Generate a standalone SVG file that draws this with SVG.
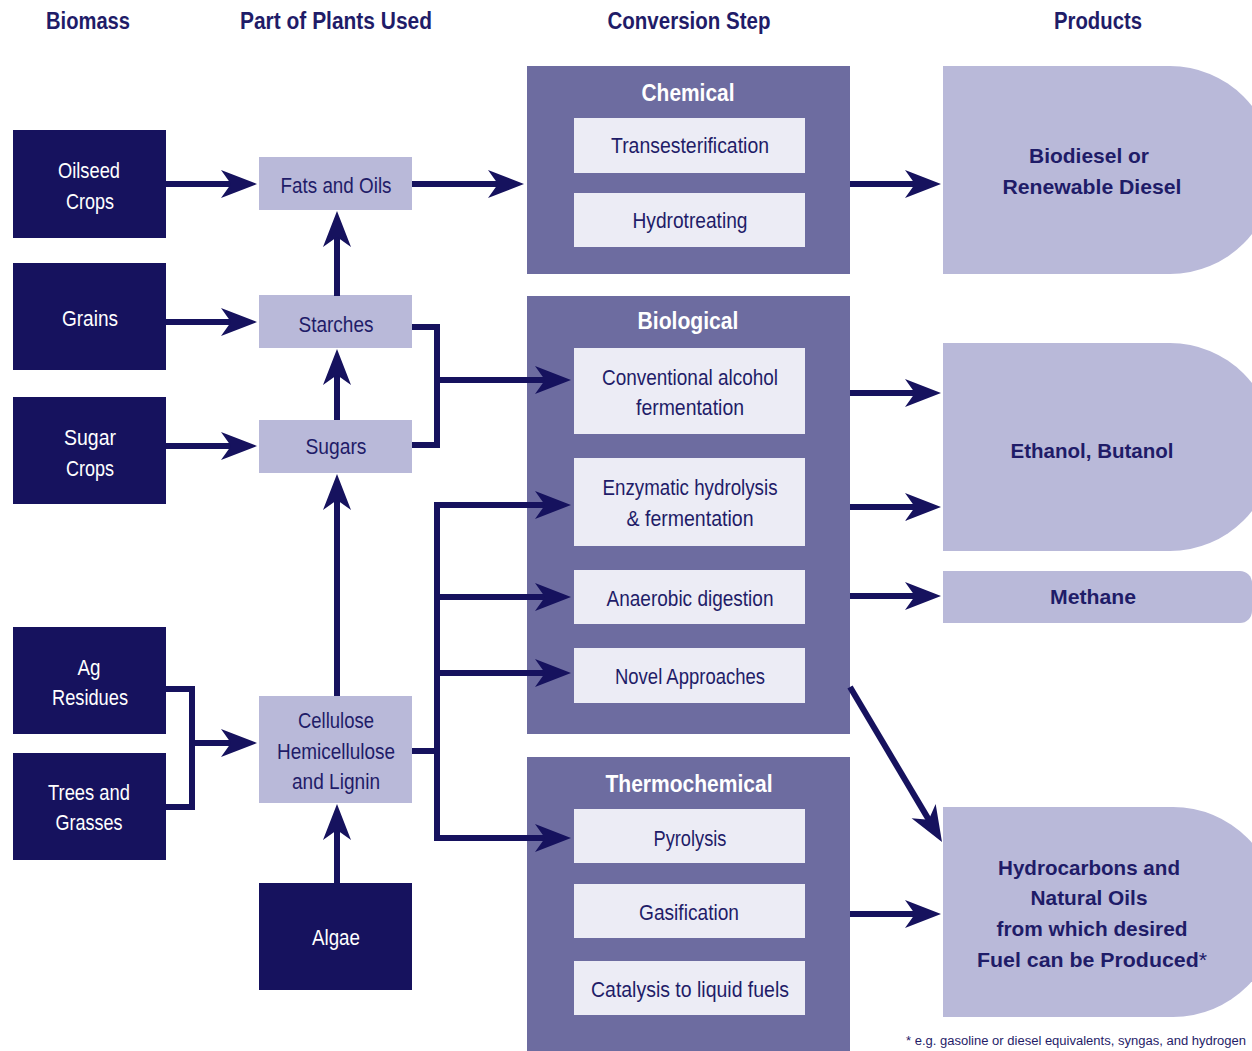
<svg xmlns="http://www.w3.org/2000/svg" width="1252" height="1051" viewBox="0 0 1252 1051">
<style>
text{font-family:"Liberation Sans",Arial,sans-serif;text-anchor:middle}
.hdr{font-size:23px;font-weight:bold;fill:#1f1c68}
.dark{fill:#16125e}
.light{fill:#b9b9d9}
.cont{fill:#6d6ca0}
.inner{fill:#ececf5}
.wt{font-size:22px;fill:#ffffff}
.nt{font-size:22px;fill:#1f1c68}
.tt{font-size:23px;font-weight:bold;fill:#ffffff}
.pt{font-size:21px;font-weight:bold;fill:#1f1c68}
.fn{font-size:12.5px;fill:#1f1c68;text-anchor:start}
.ln{fill:none;stroke:#16125e;stroke-width:6}
.ar{marker-end:url(#ah)}
</style>
<defs>
<marker id="ah" markerUnits="userSpaceOnUse" markerWidth="36" markerHeight="30" refX="26" refY="15" orient="auto">
<path d="M0,1 L36,15 L0,29 L10,15 Z" fill="#16125e"/>
</marker>
</defs>
<rect width="1252" height="1051" fill="#ffffff"/>
<g id="headers">
<text class="hdr" x="88" y="29" textLength="84" lengthAdjust="spacingAndGlyphs">Biomass</text>
<text class="hdr" x="336" y="29" textLength="192" lengthAdjust="spacingAndGlyphs">Part of Plants Used</text>
<text class="hdr" x="689" y="29" textLength="163" lengthAdjust="spacingAndGlyphs">Conversion Step</text>
<text class="hdr" x="1098" y="29" textLength="88" lengthAdjust="spacingAndGlyphs">Products</text>
</g>
<g id="oilseed"><rect class="dark" x="13" y="130" width="153" height="108"/>
<text class="wt" x="89" y="178" textLength="62" lengthAdjust="spacingAndGlyphs">Oilseed</text>
<text class="wt" x="90" y="209" textLength="48" lengthAdjust="spacingAndGlyphs">Crops</text></g>
<g id="grains"><rect class="dark" x="13" y="263" width="153" height="107"/>
<text class="wt" x="90" y="326" textLength="56" lengthAdjust="spacingAndGlyphs">Grains</text></g>
<g id="sugarcrops"><rect class="dark" x="13" y="397" width="153" height="107"/>
<text class="wt" x="90" y="445" textLength="52" lengthAdjust="spacingAndGlyphs">Sugar</text>
<text class="wt" x="90" y="476" textLength="48" lengthAdjust="spacingAndGlyphs">Crops</text></g>
<g id="agresidues"><rect class="dark" x="13" y="627" width="153" height="107"/>
<text class="wt" x="89" y="675" textLength="23" lengthAdjust="spacingAndGlyphs">Ag</text>
<text class="wt" x="90" y="705" textLength="76" lengthAdjust="spacingAndGlyphs">Residues</text></g>
<g id="trees"><rect class="dark" x="13" y="753" width="153" height="107"/>
<text class="wt" x="89" y="800" textLength="82" lengthAdjust="spacingAndGlyphs">Trees and</text>
<text class="wt" x="89" y="830" textLength="67" lengthAdjust="spacingAndGlyphs">Grasses</text></g>
<g id="fats"><rect class="light" x="259" y="157" width="153" height="53"/>
<text class="nt" x="336" y="193" textLength="111" lengthAdjust="spacingAndGlyphs">Fats and Oils</text></g>
<g id="starches"><rect class="light" x="259" y="295" width="153" height="53"/>
<text class="nt" x="336" y="332" textLength="75" lengthAdjust="spacingAndGlyphs">Starches</text></g>
<g id="sugars"><rect class="light" x="259" y="420" width="153" height="53"/>
<text class="nt" x="336" y="454" textLength="61" lengthAdjust="spacingAndGlyphs">Sugars</text></g>
<g id="cellulose"><rect class="light" x="259" y="696" width="153" height="107"/>
<text class="nt" x="336" y="728" textLength="76" lengthAdjust="spacingAndGlyphs">Cellulose</text>
<text class="nt" x="336" y="759" textLength="118" lengthAdjust="spacingAndGlyphs">Hemicellulose</text>
<text class="nt" x="336" y="789" textLength="88" lengthAdjust="spacingAndGlyphs">and Lignin</text></g>
<g id="algae"><rect class="dark" x="259" y="883" width="153" height="107"/>
<text class="wt" x="336" y="945" textLength="48" lengthAdjust="spacingAndGlyphs">Algae</text></g>
<g id="chemical"><rect class="cont" x="527" y="66" width="323" height="208"/>
<text class="tt" x="688" y="101" textLength="93" lengthAdjust="spacingAndGlyphs">Chemical</text>
<rect class="inner" x="574" y="118" width="231" height="55"/>
<text class="nt" x="690" y="153" textLength="158" lengthAdjust="spacingAndGlyphs">Transesterification</text>
<rect class="inner" x="574" y="193" width="231" height="54"/>
<text class="nt" x="690" y="228" textLength="115" lengthAdjust="spacingAndGlyphs">Hydrotreating</text></g>
<g id="biological"><rect class="cont" x="527" y="296" width="323" height="438"/>
<text class="tt" x="688" y="329" textLength="101" lengthAdjust="spacingAndGlyphs">Biological</text>
<rect class="inner" x="574" y="348" width="231" height="86"/>
<text class="nt" x="690" y="385" textLength="176" lengthAdjust="spacingAndGlyphs">Conventional alcohol</text>
<text class="nt" x="690" y="415" textLength="108" lengthAdjust="spacingAndGlyphs">fermentation</text>
<rect class="inner" x="574" y="458" width="231" height="88"/>
<text class="nt" x="690" y="495" textLength="175" lengthAdjust="spacingAndGlyphs">Enzymatic hydrolysis</text>
<text class="nt" x="690" y="526" textLength="127" lengthAdjust="spacingAndGlyphs">&amp; fermentation</text>
<rect class="inner" x="574" y="570" width="231" height="54"/>
<text class="nt" x="690" y="606" textLength="167" lengthAdjust="spacingAndGlyphs">Anaerobic digestion</text>
<rect class="inner" x="574" y="648" width="231" height="55"/>
<text class="nt" x="690" y="684" textLength="150" lengthAdjust="spacingAndGlyphs">Novel Approaches</text></g>
<g id="thermochemical"><rect class="cont" x="527" y="757" width="323" height="294"/>
<text class="tt" x="689" y="792" textLength="167" lengthAdjust="spacingAndGlyphs">Thermochemical</text>
<rect class="inner" x="574" y="809" width="231" height="54"/>
<text class="nt" x="690" y="846" textLength="73" lengthAdjust="spacingAndGlyphs">Pyrolysis</text>
<rect class="inner" x="574" y="884" width="231" height="54"/>
<text class="nt" x="689" y="920" textLength="100" lengthAdjust="spacingAndGlyphs">Gasification</text>
<rect class="inner" x="574" y="961" width="231" height="54"/>
<text class="nt" x="690" y="997" textLength="198" lengthAdjust="spacingAndGlyphs">Catalysis to liquid fuels</text></g>
<g id="biodiesel"><path class="light" d="M943,66 H1170 A104,104 0 0 1 1170,274 H943 Z"/>
<text class="pt" x="1089" y="163" textLength="120" lengthAdjust="spacingAndGlyphs">Biodiesel or</text>
<text class="pt" x="1092" y="194" textLength="179" lengthAdjust="spacingAndGlyphs">Renewable Diesel</text></g>
<g id="ethanol"><path class="light" d="M943,343 H1170 A104,104 0 0 1 1170,551 H943 Z"/>
<text class="pt" x="1092" y="458" textLength="163" lengthAdjust="spacingAndGlyphs">Ethanol, Butanol</text></g>
<g id="methane"><path class="light" d="M943,571 H1240 A12,12 0 0 1 1252,583 V611 A12,12 0 0 1 1240,623 H943 Z"/>
<text class="pt" x="1093" y="604" textLength="86" lengthAdjust="spacingAndGlyphs">Methane</text></g>
<g id="hydrocarbons"><path class="light" d="M943,807 H1173 A105,105 0 0 1 1173,1017 H943 Z"/>
<text class="pt" x="1089" y="875" textLength="182" lengthAdjust="spacingAndGlyphs">Hydrocarbons and</text>
<text class="pt" x="1089" y="905" textLength="117" lengthAdjust="spacingAndGlyphs">Natural Oils</text>
<text class="pt" x="1092" y="936" textLength="191" lengthAdjust="spacingAndGlyphs">from which desired</text>
<text class="pt" x="1092" y="967" textLength="230" lengthAdjust="spacingAndGlyphs">Fuel can be Produced<tspan font-weight="normal">*</tspan></text></g>
<g id="connectors">
<path class="ln ar" d="M166,184 H247"/>
<path class="ln ar" d="M412,184 H514"/>
<path class="ln ar" d="M850,184 H931"/>
<path class="ln ar" d="M166,322 H247"/>
<path class="ln ar" d="M166,446 H247"/>
<path class="ln ar" d="M337,296 V221"/>
<path class="ln ar" d="M337,420 V359"/>
<path class="ln ar" d="M337,696 V484"/>
<path class="ln ar" d="M337,883 V814"/>
<path class="ln" d="M166,689 H192 V807 H166"/>
<path class="ln ar" d="M192,743 H247"/>
<path class="ln" d="M412,327 H437 V445 H412"/>
<path class="ln ar" d="M437,380 H561"/>
<path class="ln" d="M412,751 H437"/>
<path class="ln" d="M437,505 V838"/>
<path class="ln ar" d="M434,505 H561"/>
<path class="ln ar" d="M437,597 H561"/>
<path class="ln ar" d="M437,673 H561"/>
<path class="ln ar" d="M434,838 H561"/>
<path class="ln ar" d="M850,393 H931"/>
<path class="ln ar" d="M850,507 H931"/>
<path class="ln ar" d="M850,596 H931"/>
<path class="ln ar" d="M850,687 L936.9,833.4"/>
<path class="ln ar" d="M850,914 H931"/>
</g>
<g id="footnote">
<text class="fn" x="906" y="1045" textLength="340" lengthAdjust="spacingAndGlyphs">* e.g. gasoline or diesel equivalents, syngas, and hydrogen</text>
</g>
</svg>
